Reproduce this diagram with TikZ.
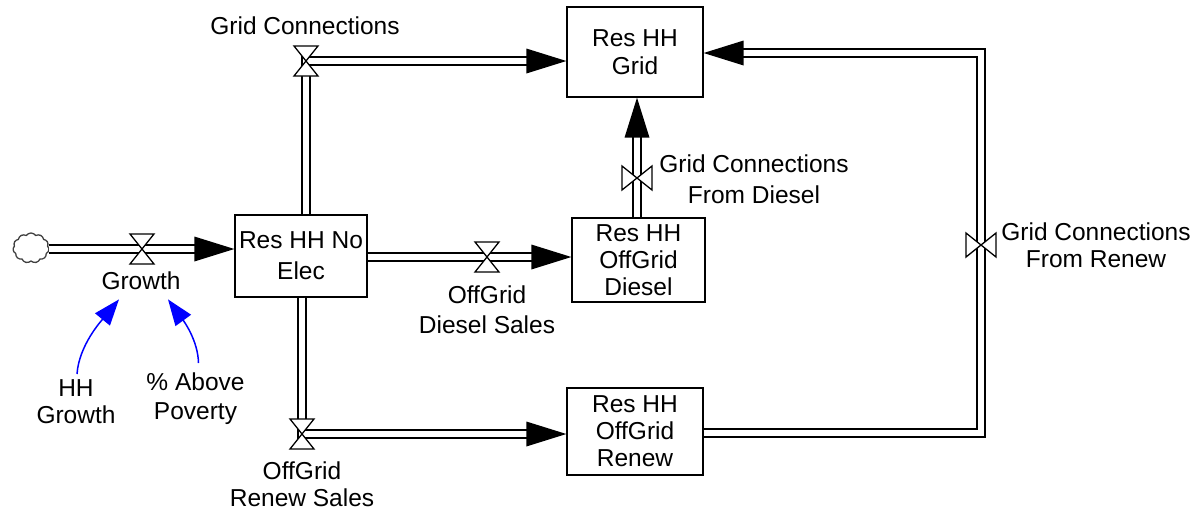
\documentclass[tikz,border=0pt]{standalone}
\usepackage{fontspec}
\setmainfont{Liberation Sans}
\usetikzlibrary{arrows.meta,decorations.markings,shapes.symbols}
\newcommand\flowpipe[1]{\draw[pipe] #1; \path[flowhead] #1;}
\begin{document}
\begin{tikzpicture}[x=1pt,y=-1pt,
  font=\fontsize{24.5}{29}\selectfont,
  stock/.style={draw, line width=1.3pt, align=center, inner sep=0pt, fill=white},
  lbl/.style={align=center, inner sep=0pt, anchor=north},
  pipe/.style={draw=black, double=white, line width=1.8pt, double distance=6pt, line join=miter, shorten >=36pt},
  flowhead/.style={decoration={markings, mark=at position 1 with {\fill (0pt,0pt) -- (-40pt,12.5pt) -- (-40pt,-12.5pt) -- cycle;}}, postaction={decorate}},
  info/.style={draw=blue, line width=1.5pt, -{Triangle[length=26pt,width=19pt]}},
  hourglass/.pic={\draw[fill=white, line width=1.3pt, line join=miter] (-12,-15) -- (12,-15) -- (-12,15) -- (12,15) -- cycle;},
  bowtie/.pic={\draw[fill=white, line width=1.3pt, line join=miter] (-15,-12) -- (-15,12) -- (15,-12) -- (15,12) -- cycle;}
]
\useasboundingbox (0,0) rectangle (1196,512);

% stocks
\node[stock, minimum width=136pt, minimum height=90pt, font=\fontsize{24.5}{28}\selectfont] (grid) at (635,52) {Res HH\\Grid};
\node[stock, minimum width=132pt, minimum height=82pt, font=\fontsize{24.5}{31}\selectfont] (noelec) at (301,256) {Res HH No\\Elec};
\node[stock, minimum width=133pt, minimum height=84pt, font=\fontsize{24.5}{27}\selectfont] (diesel) at (638.5,260) {Res HH\\OffGrid\\Diesel};
\node[stock, minimum width=136pt, minimum height=87pt, font=\fontsize{24.5}{27}\selectfont] (renew) at (635,431.5) {Res HH\\OffGrid\\Renew};

% source cloud
\node[cloud, cloud puffs=11, cloud puff arc=110, aspect=1.2, draw=black!75, line width=1.3pt, minimum width=36pt, minimum height=30pt, inner sep=0pt] (cloud) at (31,248) {};

% valve positions
\coordinate (vgrowth) at (142,249);
\coordinate (vgc) at (306,61);
\coordinate (vds) at (487,257);
\coordinate (vfd) at (637,178);
\coordinate (vrs) at (302,434);
\coordinate (vfr) at (981,245);
\coordinate (rb) at (981,433);
\coordinate (rt) at (981,53);

% pipes
\flowpipe{(cloud.east |- vgrowth) -- (vgrowth -| noelec.west)}
\flowpipe{(noelec.north -| vgc) -- (vgc) -- (vgc -| grid.west)}
\flowpipe{(vds -| noelec.east) -- (vds -| diesel.west)}
\flowpipe{(vfd |- diesel.north) -- (vfd |- grid.south)}
\flowpipe{(noelec.south -| vrs) -- (vrs) -- (vrs -| renew.west)}
\flowpipe{(rb -| renew.east) -- (rb) -- (rt) -- (rt -| grid.east)}

% valves
\pic at (vgrowth) {hourglass};
\pic at (vgc) {hourglass};
\pic at (vds) {hourglass};
\pic at (vrs) {hourglass};
\pic at (vfd) {bowtie};
\pic at (vfr) {bowtie};

% labels
\node[lbl] (lgc) at (305,17) {Grid Connections};
\node[lbl] (lgrowth) at (141,272) {Growth};
\node[lbl, font=\fontsize{24.5}{27}\selectfont] (lhh) at (76,379) {HH\\Growth};
\node[lbl, font=\fontsize{24.5}{29}\selectfont] (lpov) at (195.5,373) {\% Above\\Poverty};
\node[lbl, font=\fontsize{24.5}{30}\selectfont] (lds) at (487,286) {OffGrid\\Diesel Sales};
\node[lbl, font=\fontsize{24.5}{27}\selectfont] (lrs) at (302,462) {OffGrid\\Renew Sales};
\node[lbl, font=\fontsize{24.5}{31}\selectfont] (lfd) at (754,155) {Grid Connections\\From Diesel};
\node[lbl, font=\fontsize{24.5}{27}\selectfont] (lfr) at (1096,223) {Grid Connections\\From Renew};

% information links
\draw[info] ([xshift=1pt,yshift=5pt]lhh.north) .. controls (79,345) and (102,320) .. ([xshift=-22pt,yshift=-9pt]lgrowth.south);
\draw[info] ([xshift=3pt,yshift=10pt]lpov.north) .. controls (198,340) and (183,320) .. ([xshift=27pt,yshift=-9pt]lgrowth.south);
\end{tikzpicture}
\end{document}
